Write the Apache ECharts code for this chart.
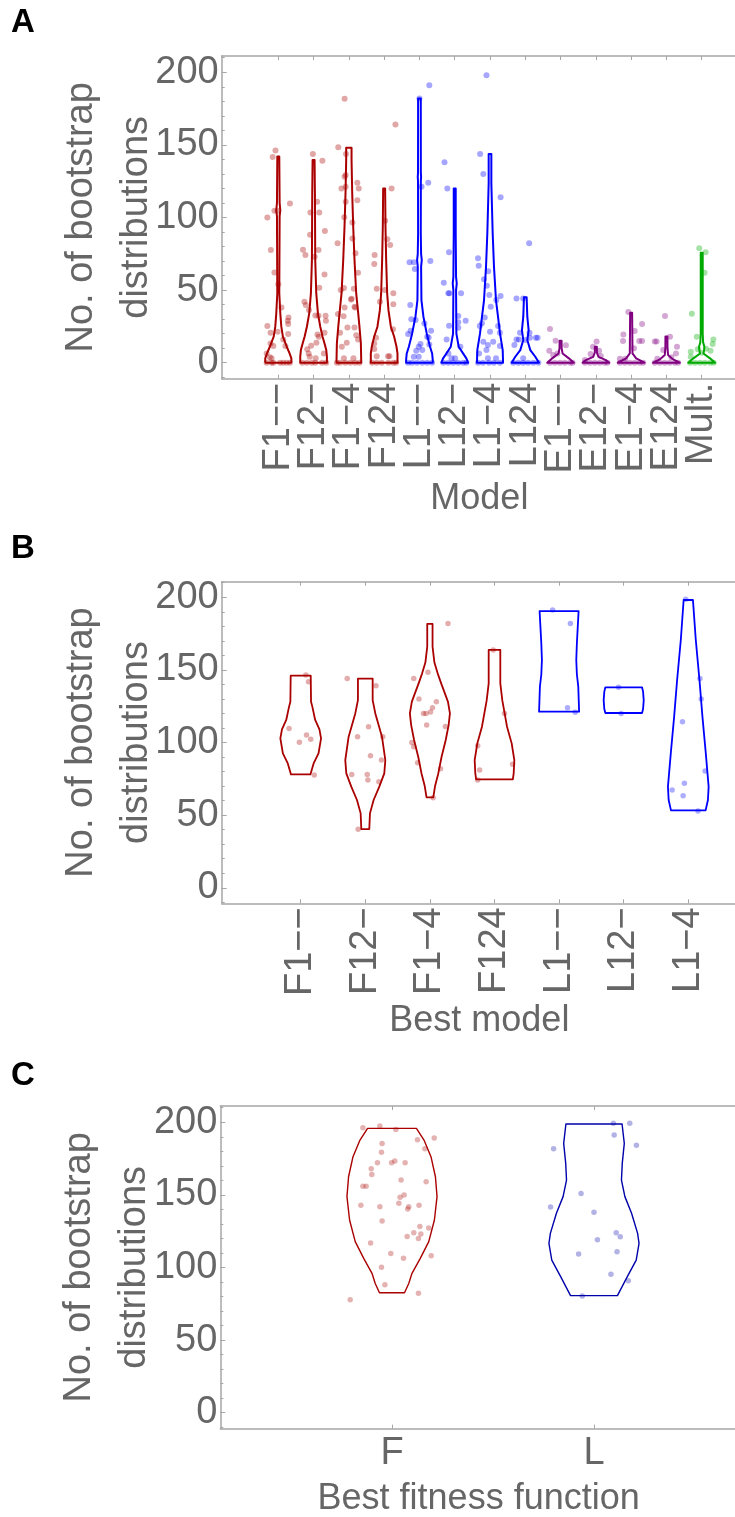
<!DOCTYPE html>
<html>
<head>
<meta charset="utf-8">
<script src="https://cdn.jsdelivr.net/npm/echarts@6/dist/echarts.min.js"></script>
<style>
  html, body { margin: 0; padding: 0; background: #fff; }
  #chart { width: 735px; height: 1517px; }
</style>
</head>
<body>
<div id="chart"></div>
<script>
// categories
const catsA = ['F1−−', 'F12−', 'F1−4', 'F124', 'L1−−', 'L12−', 'L1−4', 'L124', 'E1−−', 'E12−', 'E1−4', 'E124', 'Mult.']
const catsB = ['F1−−', 'F12−', 'F1−4', 'F124', 'L1−−', 'L12−', 'L1−4']
const catsC = ['F', 'L']
const yTickValues = [0, 50, 100, 150, 200]

// panel A: bootstrap counts per model, jitter (fraction of a category)
const valuesA = [
  [146.2, 141.6, 109.7, 100, 104.7, 104.7, 77.6, 62.2, 54, 38, 31.2, 28.9, 26.6, 25.3, 20.7, 19.7, 21.3, 16, 13.3, 11.5, 11.5, 6.4, 3.7, 3, 0, 0, 0, 0, 0, 0, 0],
  [143.7, 139.1, 110.9, 103.5, 103.5, 88.2, 90.7, 77.6, 73, 77.8, 74.1, 60.8, 51.7, 42, 39.7, 36.3, 32.6, 32.4, 32.4, 28.9, 20.7, 19.5, 17.9, 11.7, 9.2, 13.8, 6.4, 4.1, 3, 6.4, 0, 0, 0, 0, 0, 0],
  [181.8, 148.3, 143.7, 128, 129.2, 120, 121.2, 124, 120, 111.8, 110.9, 100.1, 96.6, 85.6, 82.2, 75.3, 62, 50, 51.4, 51, 43.6, 44, 38.6, 38, 38, 33.5, 32, 24.3, 24.3, 20.7, 19, 16, 13.8, 11, 3, 3, 0, 0, 0, 0, 0, 0],
  [164.1, 120, 97.8, 85, 81, 74.2, 68, 51, 50, 47.8, 40.2, 42, 23, 17.2, 13.3, 9.4, 4.4, 4.4, 4.4, 0, 0, 0, 0, 0, 0],
  [191, 182, 124, 121.2, 69.1, 69.1, 64.5, 70, 39.7, 30, 29.4, 27, 22, 22, 19.7, 17.9, 17.4, 12.9, 11, 12.6, 8.3, 8.7, 4.1, 4.1, 0, 0, 0, 0, 0, 0],
  [138, 120, 76, 55.1, 47.8, 47.8, 47.8, 32.1, 28.9, 27.8, 24.1, 25.5, 16, 11, 6.4, 3, 3, 0, 0, 0, 0, 0, 0],
  [198, 143.7, 130, 114, 71.9, 66.8, 57.4, 53, 63, 45.9, 43.2, 38.6, 46.6, 31.2, 27.1, 25.3, 25.3, 21.3, 20.7, 14.5, 14.5, 12.2, 11.5, 6.4, 8.7, 3, 3, 0, 0, 0, 0, 0],
  [82.2, 44.3, 44.3, 20.7, 20.7, 16, 16, 17.2, 17.2, 17.2, 12.2, 15.6, 3, 0, 0, 0, 0, 0, 0],
  [23.2, 15.2, 12, 8.3, 5.3, 6.4, 0, 0, 0, 0, 0, 0],
  [14.7, 11, 8.3, 6, 4.6, 1.9, 0, 0, 0, 0, 0, 0],
  [34.9, 26.6, 19.5, 21.8, 15, 15, 15, 9.9, 2.8, 2.8, 0, 0, 0, 0, 0, 0],
  [32.1, 17.9, 14.7, 14.7, 11, 8.7, 6.4, 3.7, 2.8, 0, 0, 0, 0, 0, 0],
  [78.8, 76, 62, 33.8, 17.9, 16, 12.9, 9.2, 9.6, 7.6, 8.3, 4.1, 6.9, 0, 0, 0, 0, 0, 0]
]
const jitterA = [
  [-0.08, -0.16, 0.33, -0.31, -0.11, -0.02, -0.21, -0.11, 0, 0.09, 0.29, 0.27, 0.28, -0.31, -0.22, 0.28, -0.02, 0.14, -0.22, -0.14, 0.2, -0.33, -0.24, -0.19, -0.33, -0.19, -0.14, 0.05, 0.14, 0.24, 0.33],
  [-0.02, 0.25, 0.1, -0.09, 0.16, -0.1, 0.32, 0.14, 0.03, -0.3, -0.23, 0.31, 0.16, -0.26, -0.22, -0.13, 0.05, 0.14, 0.34, 0.35, 0.31, 0.11, 0.15, -0.07, -0.18, 0.08, -0.14, -0.11, 0.06, 0.29, -0.32, -0.19, -0.05, 0.05, 0.24, 0.36],
  [-0.12, -0.3, -0.08, -0.12, -0.09, -0.21, -0.09, 0.24, 0.28, 0.24, -0.09, -0.13, 0.1, 0.1, -0.32, 0.19, 0.26, -0.23, -0.14, 0.14, 0.06, 0.08, 0.16, 0.18, -0.12, -0.31, -0.15, -0.04, 0.16, -0.25, 0.21, 0.26, -0.06, -0.2, -0.14, 0.13, -0.34, -0.25, -0.1, 0.04, 0.18, 0.3],
  [0.32, 0.21, 0.03, 0.09, 0.17, -0.27, -0.28, -0.21, 0.02, 0.26, 0.26, -0.12, 0.25, -0.23, -0.28, -0.28, -0.21, 0.11, 0.15, -0.34, -0.21, -0.07, 0.12, 0.26, 0.34],
  [0.28, 0, 0.25, 0.06, -0.28, -0.16, -0.13, 0.31, -0.26, -0.23, -0.11, 0.14, 0.33, -0.25, -0.32, 0.22, 0.26, 0.03, -0.02, 0.28, -0.09, 0.08, -0.16, -0.02, -0.32, -0.21, -0.07, 0.08, 0.22, 0.36],
  [-0.29, -0.21, -0.16, -0.31, -0.18, -0.15, 0.18, 0.1, 0.31, 0.1, 0.1, -0.16, -0.23, 0.16, -0.18, -0.09, 0.01, -0.32, -0.18, -0.04, 0.1, 0.24, 0.33],
  [-0.1, -0.28, -0.19, 0.3, -0.34, -0.32, -0.17, -0.09, -0.05, 0.3, 0.18, 0.02, -0.02, -0.15, -0.23, -0.29, 0.23, 0, 0.28, -0.19, 0.09, -0.06, 0.28, -0.31, -0.1, -0.06, 0.17, -0.34, -0.2, -0.03, 0.11, 0.28],
  [0.11, -0.25, -0.06, -0.15, 0.12, -0.25, -0.18, 0.13, 0.3, 0.35, -0.31, 0.01, -0.06, -0.34, -0.2, -0.06, 0.08, 0.23, 0.37],
  [-0.3, -0.14, 0.15, -0.32, -0.21, -0.09, -0.3, -0.16, -0.02, 0.12, 0.27, 0.34],
  [0.02, -0.08, 0.09, -0.15, 0.14, -0.31, -0.31, -0.17, -0.03, 0.11, 0.25, 0.33],
  [-0.08, 0.31, -0.22, 0.1, -0.23, 0.23, 0.31, 0.08, -0.32, -0.17, -0.32, -0.18, -0.04, 0.1, 0.24, 0.34],
  [-0.04, 0.1, -0.33, -0.28, 0.3, -0.09, 0.27, 0.14, -0.26, -0.33, -0.19, -0.05, 0.09, 0.24, 0.33],
  [-0.07, 0.11, 0.08, -0.28, -0.14, 0.33, 0.31, -0.11, 0.12, -0.31, 0.25, -0.31, 0, -0.33, -0.19, -0.05, 0.09, 0.24, 0.34]
]
// violin outlines: [value, half width in category units]
const violinA = [
  [[0, 0.36], [0.7, 0.37], [3, 0.37], [6.4, 0.32], [11, 0.24], [18, 0.13], [25, 0.085], [34, 0.057], [48, 0.028], [101, 0.038], [105, 0.057], [110, 0.038], [142, 0.028]],
  [[0, 0.378], [4.1, 0.378], [8.7, 0.36], [13.3, 0.31], [17.9, 0.255], [24.8, 0.19], [34, 0.123], [47.7, 0.076], [70.7, 0.047], [116.6, 0.038], [139.6, 0.028]],
  [[0, 0.35], [1.8, 0.35], [13.3, 0.34], [24.8, 0.3], [34, 0.265], [47.7, 0.208], [70.7, 0.16], [93.7, 0.123], [116.6, 0.095], [139.6, 0.076], [148, 0.076]],
  [[0, 0.378], [6.4, 0.378], [11, 0.35], [17.9, 0.284], [24.8, 0.19], [36, 0.123], [47.7, 0.085], [70.7, 0.057], [93.7, 0.038], [120, 0.028]],
  [[0, 0.378], [1.8, 0.378], [6.4, 0.36], [11, 0.3], [20, 0.208], [31.7, 0.113], [43, 0.057], [66, 0.047], [70.7, 0.066], [75, 0.047], [89, 0.038], [125, 0.04], [128, 0.047], [131, 0.04], [182, 0.038]],
  [[0, 0.378], [3, 0.33], [6.4, 0.236], [11, 0.113], [20, 0.047], [50, 0.038], [54.6, 0.057], [59, 0.038], [89, 0.028], [120, 0.028]],
  [[0, 0.37], [8.7, 0.36], [20, 0.284], [31.7, 0.227], [43, 0.17], [66, 0.113], [89, 0.076], [123.5, 0.038], [143.7, 0.038]],
  [[0, 0.388], [4.1, 0.284], [8.7, 0.142], [15.6, 0.057], [22.5, 0.095], [31.7, 0.057], [45, 0.038]],
  [[0, 0.378], [3, 0.236], [6.4, 0.057], [10, 0.03], [15.2, 0.028]],
  [[0, 0.378], [1.8, 0.284], [4, 0.076], [7, 0.03], [11, 0.028]],
  [[0, 0.378], [3, 0.142], [6.4, 0.038], [34.4, 0.028]],
  [[0, 0.378], [2.3, 0.19], [5.3, 0.047], [10, 0.03], [18, 0.028]],
  [[0, 0.378], [3, 0.236], [6.4, 0.047], [9, 0.07], [11, 0.076], [14, 0.04], [20, 0.028], [75.8, 0.028]]
]

// panel B: best model
const valuesB = [
  [146.5, 141.9, 109.7, 105.1, 102.2, 100.1, 77.6],
  [144, 139.1, 110.9, 104, 104, 90.9, 87.9, 78, 78, 74.2, 73, 40.2],
  [182, 144, 148.3, 130, 128, 124, 120, 120, 121, 112, 111, 100, 97, 86, 82, 62],
  [163.7, 120, 97.8, 85, 81, 74.2],
  [191.2, 182, 124, 120.8],
  [138, 120],
  [198.6, 144, 130, 114.3, 80.3, 71.9, 67.3, 63.4, 52.8]
]
const jitterB = [
  [0.08, 0.12, -0.18, 0.09, 0.155, -0.02, 0.21],
  [-0.28, 0.165, 0.05, -0.12, 0.27, 0.08, 0.25, -0.21, 0.03, 0.04, 0.21, -0.11],
  [0.28, -0.25, -0.03, -0.17, 0.1, 0.04, -0.1, -0.06, 0.01, -0.05, 0.24, -0.28, -0.25, -0.19, 0.165, 0.05],
  [-0.02, 0.155, -0.26, 0.28, -0.23, -0.26],
  [-0.1, 0.175, 0.13, 0.25],
  [-0.08, -0.04],
  [-0.04, 0.18, 0.2, -0.09, 0.26, -0.06, -0.25, -0.08, 0.15]
]
const violinB = [
  [[78, 0.15], [85.6, 0.2], [92.5, 0.276], [102.8, 0.315], [109, 0.29], [115.5, 0.224], [124.7, 0.18], [128, 0.16], [146, 0.155]],
  [[40.4, 0.062], [51.2, 0.072], [60.4, 0.129], [69.6, 0.217], [78.7, 0.294], [87.9, 0.31], [104, 0.258], [120, 0.155], [129.2, 0.114], [144, 0.114]],
  [[62.2, 0.052], [70, 0.08], [78.7, 0.13], [90, 0.18], [101.7, 0.245], [112, 0.29], [120, 0.31], [128, 0.28], [133.8, 0.232], [140, 0.18], [147.6, 0.12], [155, 0.07], [166, 0.041], [181.6, 0.041]],
  [[74.6, 0.284], [78.7, 0.297], [87.9, 0.307], [99.4, 0.266], [110.9, 0.194], [129, 0.121], [140.7, 0.09], [163.7, 0.09]],
  [[121.2, 0.31], [138.4, 0.297], [147, 0.275], [156.8, 0.266], [168, 0.275], [179.8, 0.289], [190.5, 0.302]],
  [[120.3, 0.284], [123, 0.3], [129, 0.31], [135, 0.3], [138, 0.284]],
  [[53.3, 0.268], [60.4, 0.304], [69.6, 0.315], [92.5, 0.271], [117.8, 0.219], [143, 0.173], [170.6, 0.116], [198.1, 0.072]]
]

// panel C: best fitness function
const valuesC = [
  [196.3, 197.4, 195.1, 188, 189.2, 185.3, 181.8, 179.3, 172.2, 172.2, 173.3, 172.2, 168, 164.1, 160.2, 159.1, 155.9, 155.9, 149.9, 148.3, 142.8, 141.9, 144.2, 141.9, 140.3, 142.8, 132, 128.3, 127.2, 124, 123, 120, 121.4, 116.9, 109.7, 106.3, 108.1, 100.1, 88.2, 82.2, 77.8],
  [199.3, 199.3, 191.2, 184.1, 181.8, 151, 141.6, 138, 124, 121.2, 119.1, 109.3, 110.9, 95.3, 90.9, 80.3]
]
const jitterC = [
  [-0.144, -0.06, 0.019, 0.126, 0.209, -0.049, 0.163, -0.052, -0.072, -0.002, 0.014, 0.065, -0.103, -0.1, 0.045, 0.169, -0.144, -0.128, 0.06, 0.04, -0.154, -0.06, 0.034, 0.083, 0.078, 0.134, -0.049, 0.138, 0.182, 0.108, 0.143, 0.131, 0.075, -0.106, -0.006, 0.057, 0.194, -0.052, -0.035, 0.131, -0.207],
  [0.096, 0.177, 0.1, 0.21, -0.2, -0.064, -0.215, 0, 0.11, 0.13, 0.017, -0.076, 0.114, 0.084, 0.17, -0.058]
]
const violinC = [
  [[82.6, 0.062], [89, 0.083], [96, 0.099], [106.3, 0.14], [117.8, 0.182], [132.7, 0.21], [148.8, 0.223], [162.5, 0.215], [176.3, 0.193], [187.3, 0.16], [195.8, 0.121]],
  [[80.6, 0.116], [93.7, 0.165], [105.1, 0.209], [116.6, 0.223], [123.5, 0.216], [137.3, 0.186], [148.8, 0.153], [160.2, 0.136], [171.7, 0.14], [185.5, 0.15], [198.8, 0.139]]
]

const RED = '#aa0000', BLUE = '#0000ff', PURPLE = '#800080', GREEN = '#00aa00', NAVY = '#0000aa'
const FONT = "'Liberation Sans', Arial, sans-serif"
const TEXT = '#666666'
const FRAME = '#a6a6a6'

const panels = [
  {
    letter: 'A', letterTop: 6, cats: catsA, vals: valuesA, jit: jitterA, vio: violinA,
    colors: [RED, RED, RED, RED, BLUE, BLUE, BLUE, BLUE, PURPLE, PURPLE, PURPLE, PURPLE, GREEN],
    grid: { left: 221.7, top: 56, width: 515.3, height: 322.7 },
    x: [-0.604, 14.0], y: [-11, 211.2], rotate: 90, labelMargin: 4,
    name: 'Model', nameGap: 102, lw: 2, dot: 6, alpha: 0.35
  },
  {
    letter: 'B', letterTop: 532, cats: catsB, vals: valuesB, jit: jitterB, vio: violinB,
    colors: [RED, RED, RED, RED, BLUE, BLUE, BLUE],
    grid: { left: 221.7, top: 581.7, width: 515.3, height: 321.6 },
    x: [-0.223, 7.754], y: [-10.7, 210.7], rotate: 90, labelMargin: 4,
    name: 'Best model', nameGap: 100, lw: 1.8, dot: 5.5, alpha: 0.32
  },
  {
    letter: 'C', letterTop: 1059, cats: catsC, vals: valuesC, jit: jitterC, vio: violinC,
    colors: [RED, NAVY],
    grid: { left: 220.3, top: 1106, width: 516.7, height: 322.7 },
    x: [0.15, 2.708], y: [-11, 211.2], rotate: 0, labelMargin: 6,
    name: 'Best fitness function', nameGap: 52, lw: 1.4, dot: 5.5, alpha: 0.3
  }
]

const minorTicks = []
for (let v = -10; v <= 210; v += 10) minorTicks.push(v)

const grids = [], xAxes = [], yAxes = [], series = [], graphics = []

panels.forEach((p, i) => {
  const catPos = p.cats.map((_, c) => c + 1)
  const g = p.grid
  // one band of the value axis, in pixels
  const band = g.width / (p.x[1] - p.x[0])
  grids.push(Object.assign({ outerBoundsMode: 'none', containLabel: false }, g))
  // a label-only grid whose category bands line up with the value positions 1..n
  grids.push({
    outerBoundsMode: 'none', containLabel: false,
    left: g.left + (0.5 - p.x[0]) * band, width: p.cats.length * band, top: g.top, height: g.height
  })
  graphics.push({
    type: 'text', left: 11, top: p.letterTop,
    style: { text: p.letter, font: 'bold 33px ' + FONT, fill: '#000' }
  })
  const frameLine = { show: true, onZero: false, lineStyle: { color: FRAME, width: 1.5 } }
  xAxes.push({
    gridIndex: 2 * i, type: 'value', position: 'bottom', min: p.x[0], max: p.x[1],
    axisLine: frameLine,
    axisTick: { show: true, inside: true, length: 4, customValues: catPos, lineStyle: { color: FRAME, width: 1 } },
    axisLabel: { show: false },
    splitLine: { show: false },
    name: p.name, nameLocation: 'middle', nameGap: p.nameGap, nameMoveOverlap: false,
    nameTextStyle: { fontSize: 36, color: TEXT, fontFamily: FONT }
  })
  xAxes.push({
    gridIndex: 2 * i, type: 'value', position: 'top', min: p.x[0], max: p.x[1],
    axisLine: frameLine,
    axisTick: { show: true, inside: true, length: 4, customValues: catPos, lineStyle: { color: FRAME, width: 1 } },
    axisLabel: { show: false }, splitLine: { show: false }
  })
  xAxes.push({
    gridIndex: 2 * i + 1, type: 'category', position: 'bottom', data: p.cats,
    axisLine: { show: false, onZero: false }, axisTick: { show: false },
    axisLabel: {
      interval: 0, rotate: p.rotate, margin: p.labelMargin,
      fontSize: 38, color: TEXT, fontFamily: FONT
    },
    splitLine: { show: false }
  })
  yAxes.push({
    gridIndex: 2 * i, type: 'value', position: 'left', min: p.y[0], max: p.y[1],
    axisLine: frameLine,
    axisTick: { show: true, inside: true, length: 5, customValues: yTickValues, lineStyle: { color: FRAME, width: 1 } },
    axisLabel: { customValues: yTickValues, margin: 3, fontSize: 38, color: TEXT, fontFamily: FONT, showMinLabel: true, showMaxLabel: true },
    splitLine: { show: false },
    name: 'No. of bootstrap\ndistributions', nameLocation: 'middle', nameRotate: 90, nameGap: 58,
    nameMoveOverlap: false,
    nameTextStyle: { fontSize: 38, lineHeight: 55, color: TEXT, fontFamily: FONT, align: 'center' }
  })
  // minor ticks, pulled over onto the left edge
  yAxes.push({
    gridIndex: 2 * i, type: 'value', position: 'right', offset: -g.width, min: p.y[0], max: p.y[1],
    axisLine: { show: false, onZero: false },
    axisTick: { show: true, inside: false, length: 3, customValues: minorTicks, lineStyle: { color: FRAME, width: 1 } },
    axisLabel: { show: false }, splitLine: { show: false }
  })
  yAxes.push({ gridIndex: 2 * i + 1, type: 'value', show: false, min: 0, max: 1 })

  series.push({
    type: 'custom', xAxisIndex: 3 * i, yAxisIndex: 3 * i, silent: true, z: 2,
    data: catPos.map(c => [c, 0]),
    renderItem: (params, api) => {
      const c = params.dataIndex
      const prof = p.vio[c]
      const right = prof.map(([v, w]) => api.coord([c + 1 + w, v]))
      const left = prof.slice().reverse().map(([v, w]) => api.coord([c + 1 - w, v]))
      return {
        type: 'polygon',
        shape: { points: right.concat(left) },
        style: { fill: 'none', stroke: p.colors[c], lineWidth: p.lw, lineJoin: 'round' }
      }
    }
  })
  p.vals.forEach((vals, c) => {
    series.push({
      type: 'scatter', xAxisIndex: 3 * i, yAxisIndex: 3 * i, silent: true, z: 3,
      symbolSize: p.dot,
      itemStyle: { color: p.colors[c], opacity: p.alpha },
      data: vals.map((v, k) => [c + 1 + p.jit[c][k], v])
    })
  })
})

const chart = echarts.init(document.getElementById('chart'), null, { renderer: 'canvas' })
chart.setOption({
  animation: false,
  backgroundColor: '#fff',
  tooltip: { show: false },
  grid: grids,
  xAxis: xAxes,
  yAxis: yAxes,
  graphic: graphics,
  series: series
})
</script>
</body>
</html>
